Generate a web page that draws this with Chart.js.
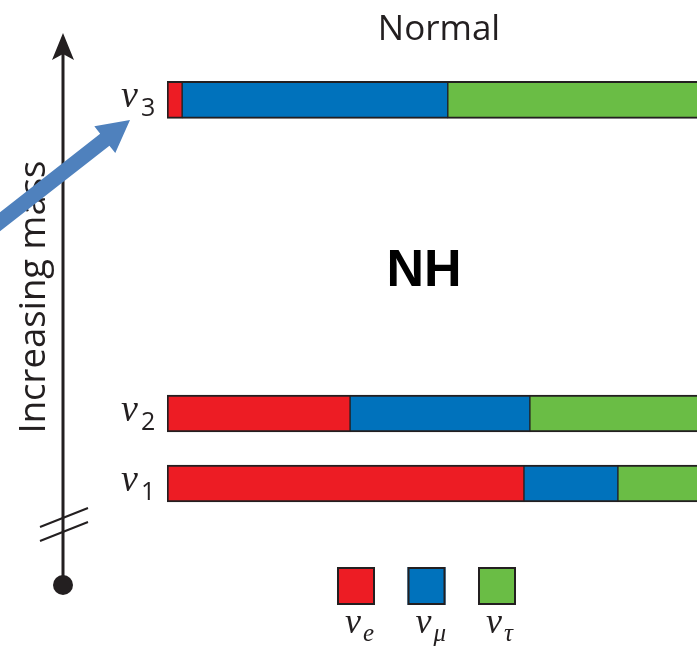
<!DOCTYPE html>
<html>
<head>
<meta charset="utf-8">
<title>Neutrino mass ordering — normal</title>
<script src="https://cdn.jsdelivr.net/npm/chart.js@4.4.1/dist/chart.umd.min.js"></script>
<style>
  html, body { margin: 0; padding: 0; background: #fff; overflow: hidden; }
  #wrap { width: 720px; height: 649px; }
</style>
</head>
<body>
<div id="wrap"><canvas id="nhChart" width="720" height="649"></canvas></div>
<script>
// mass eigenstates (subscript of ν) and their schematic mass level
const states = ['1', '2', '3'];
const massLevel = [1, 2, 6.48];
// flavour content of each state, % (νe, νμ, ντ)
const flavours = ['e', 'μ', 'τ'];
const nuE   = [66.1, 33.9, 2.8];
const nuMu  = [17.4, 33.3, 49.2];
const nuTau = [16.5, 32.8, 48.0];
const flavourColors = ['#ed1c24', '#0072bc', '#6abd45'];

const INK = '#231f20';
const series = [nuE, nuMu, nuTau];
const edge = [
  { left: 2, top: 2, bottom: 2, right: 1 },
  { left: 1, top: 2, bottom: 2, right: 1 },
  { left: 1, top: 2, bottom: 2, right: 0 },
];

const datasets = series.map((vals, k) => ({
  label: 'ν' + flavours[k],
  data: vals.map((v, i) => ({ x: v, y: massLevel[i] })),
  backgroundColor: flavourColors[k],
  borderColor: INK,
  borderWidth: edge[k],
  borderSkipped: false,
  barThickness: 37,
}));

function arrowHead(ctx, x, tipY) {
  ctx.beginPath();
  ctx.moveTo(x, tipY);
  ctx.lineTo(x + 11, tipY + 27);
  ctx.lineTo(x, tipY + 21);
  ctx.lineTo(x - 11, tipY + 27);
  ctx.closePath();
  ctx.fill();
}

function blockArrow(ctx, tail, tip, shaftHalf, headLen, headHalf, color) {
  const dx = tip[0] - tail[0], dy = tip[1] - tail[1];
  const len = Math.hypot(dx, dy);
  const ux = dx / len, uy = dy / len, nx = -uy, ny = ux;
  const bx = tip[0] - ux * headLen, by = tip[1] - uy * headLen;
  ctx.beginPath();
  ctx.moveTo(tail[0] + nx * shaftHalf, tail[1] + ny * shaftHalf);
  ctx.lineTo(bx + nx * shaftHalf, by + ny * shaftHalf);
  ctx.lineTo(bx + nx * headHalf, by + ny * headHalf);
  ctx.lineTo(tip[0], tip[1]);
  ctx.lineTo(bx - nx * headHalf, by - ny * headHalf);
  ctx.lineTo(bx - nx * shaftHalf, by - ny * shaftHalf);
  ctx.lineTo(tail[0] - nx * shaftHalf, tail[1] - ny * shaftHalf);
  ctx.closePath();
  ctx.fillStyle = color;
  ctx.fill();
}

const decor = {
  id: 'decor',
  afterDraw(chart) {
    const ctx = chart.ctx;
    const yScale = chart.scales.y;
    ctx.save();
    ctx.fillStyle = INK;
    ctx.strokeStyle = INK;

    // titles
    ctx.textAlign = 'center';
    ctx.textBaseline = 'alphabetic';
    ctx.font = '35px "Open Sans"';
    ctx.fillText('Normal', 439, 40);
    ctx.fillStyle = '#000';
    ctx.font = 'bold 52px "Liberation Sans"';
    ctx.fillText('NH', 424, 286);

    // mass axis
    ctx.fillStyle = INK;
    ctx.lineWidth = 3;
    ctx.beginPath();
    ctx.moveTo(63, 50);
    ctx.lineTo(63, 585);
    ctx.stroke();
    arrowHead(ctx, 63, 33);
    ctx.beginPath();
    ctx.arc(63, 585, 10, 0, Math.PI * 2);
    ctx.fill();
    ctx.lineWidth = 2;
    ctx.beginPath();
    ctx.moveTo(40, 527); ctx.lineTo(88, 508);
    ctx.moveTo(40, 541); ctx.lineTo(88, 522);
    ctx.stroke();

    ctx.save();
    ctx.translate(45, 297);
    ctx.rotate(-Math.PI / 2);
    ctx.font = '36.5px "Open Sans"';
    ctx.fillText('Increasing mass', 0, 0);
    ctx.restore();

    // state labels ν1, ν2, ν3
    ctx.textAlign = 'left';
    states.forEach((s, i) => {
      const y = yScale.getPixelForValue(massLevel[i]);
      ctx.font = 'italic 38px "Liberation Serif"';
      ctx.fillText('ν', 121, y + 7);
      ctx.font = '25px "Open Sans"';
      ctx.fillText(s, 141, y + 16);
    });

    // flavour key
    flavours.forEach((f, k) => {
      const x = 337 + k * 70.5;
      ctx.fillStyle = flavourColors[k];
      ctx.fillRect(x, 567, 38, 38);
      ctx.lineWidth = 2;
      ctx.strokeRect(x + 1, 568, 36, 36);
      ctx.fillStyle = INK;
      ctx.font = 'italic 36px "Liberation Serif"';
      ctx.fillText('ν', x + 8, 633);
      ctx.font = 'italic 25px "Liberation Serif"';
      ctx.fillText(f, x + 26, 641);
    });

    // pointer onto ν3
    blockArrow(ctx, [-6, 226.5], [130, 120], 7.5, 32, 17, '#4f81bd');
    ctx.restore();
  },
};

new Chart(document.getElementById('nhChart'), {
  type: 'bar',
  data: { datasets },
  options: {
    indexAxis: 'y',
    responsive: false,
    animation: false,
    layout: { padding: { left: 167, right: 13, top: 28.5, bottom: 95.5 } },
    scales: {
      x: { type: 'linear', stacked: true, min: 0, max: 100, display: false },
      y: { type: 'linear', stacked: true, offset: false, min: 0, max: 7.5, display: false },
    },
    plugins: { legend: { display: false }, tooltip: { enabled: false }, title: { display: false } },
  },
  plugins: [decor],
});
</script>
</body>
</html>
